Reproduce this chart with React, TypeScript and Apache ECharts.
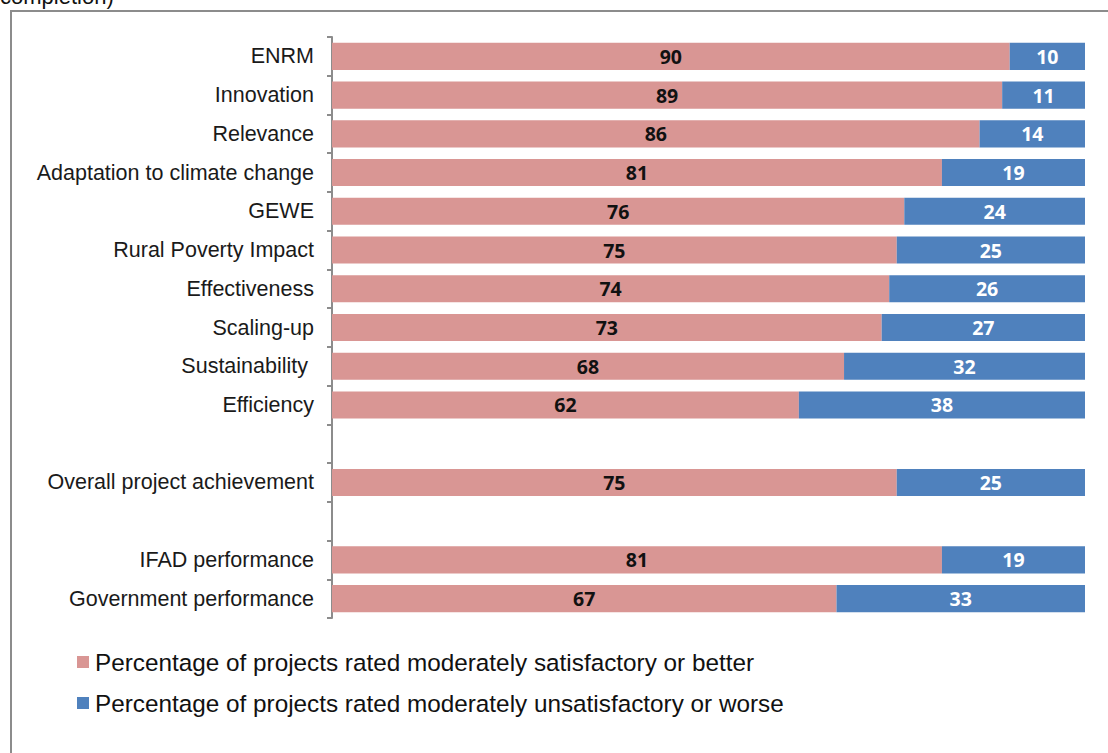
import React, { useEffect, useRef } from "react";
import * as echarts from "echarts";

const categories = [
  "ENRM",
  "Innovation",
  "Relevance",
  "Adaptation to climate change",
  "GEWE",
  "Rural Poverty Impact",
  "Effectiveness",
  "Scaling-up",
  "Sustainability ",
  "Efficiency",
  " ",
  "Overall project achievement",
  "  ",
  "IFAD performance",
  "Government performance",
];

const satisfactory: (number | null)[] = [90, 89, 86, 81, 76, 75, 74, 73, 68, 62, null, 75, null, 81, 67];
const unsatisfactory: (number | null)[] = [10, 11, 14, 19, 24, 25, 26, 27, 32, 38, null, 25, null, 19, 33];

const seriesNames = [
  "Percentage of projects rated moderately satisfactory or better",
  "Percentage of projects rated moderately unsatisfactory or worse",
];

export default function App() {
  const ref = useRef<HTMLDivElement>(null);
  useEffect(() => {
    if (!ref.current) return;
    const chart = echarts.init(ref.current, undefined, { renderer: "svg" });
    const labelFont = {
      fontFamily: "'Open Sans', 'Liberation Sans', Arial, sans-serif",
      fontWeight: "bold" as const,
      fontSize: 19.5,
    };
    chart.setOption({
      animation: false,
      backgroundColor: "#ffffff",
      grid: { left: 332, right: 23, top: 37, bottom: 135, containLabel: false },
      legend: {
        orient: "vertical",
        left: 77,
        top: 650,
        padding: 0,
        itemWidth: 12,
        itemHeight: 12,
        itemGap: 17,
        icon: "rect",
        textStyle: {
          fontFamily: "'Liberation Sans', Arial, sans-serif",
          fontSize: 24.3,
          lineHeight: 24,
          color: "#111",
          padding: [0, 0, 0, 1],
        },
        data: seriesNames,
      },
      xAxis: {
        type: "value",
        min: 0,
        max: 100,
        show: false,
      },
      yAxis: {
        type: "category",
        inverse: true,
        data: categories,
        axisLine: { show: true, lineStyle: { color: "#8c8c8c", width: 2 } },
        axisTick: { show: true, length: 5, interval: 0, lineStyle: { color: "#8c8c8c", width: 2 } },
        axisLabel: {
          interval: 0,
          margin: 18,
          fontFamily: "'Liberation Sans', Arial, sans-serif",
          fontSize: 21.5,
          color: "#1a1a1a",
        },
      },
      graphic: [
        {
          type: "text",
          left: 0,
          top: -15,
          style: {
            text: "completion)",
            font: "22px 'Liberation Sans', Arial, sans-serif",
            fill: "#111",
          },
        },
        {
          type: "polyline",
          shape: { points: [[11, 760], [11, 11], [1108, 11]] },
          style: { stroke: "#8c8c8c", lineWidth: 2, fill: "none" },
        },
      ],
      series: [
        {
          name: seriesNames[0],
          type: "bar",
          stack: "total",
          barCategoryGap: "30%",
          data: satisfactory,
          itemStyle: { color: "#D99694" },
          label: { show: true, position: "inside", color: "#111", ...labelFont },
        },
        {
          name: seriesNames[1],
          type: "bar",
          stack: "total",
          barCategoryGap: "30%",
          data: unsatisfactory,
          itemStyle: { color: "#4F81BD" },
          label: { show: true, position: "inside", color: "#ffffff", ...labelFont },
        },
      ],
    });
    return () => chart.dispose();
  }, []);
  return <div ref={ref} style={{ width: 1108, height: 753, position: "absolute", left: 0, top: 0 }} />;
}
